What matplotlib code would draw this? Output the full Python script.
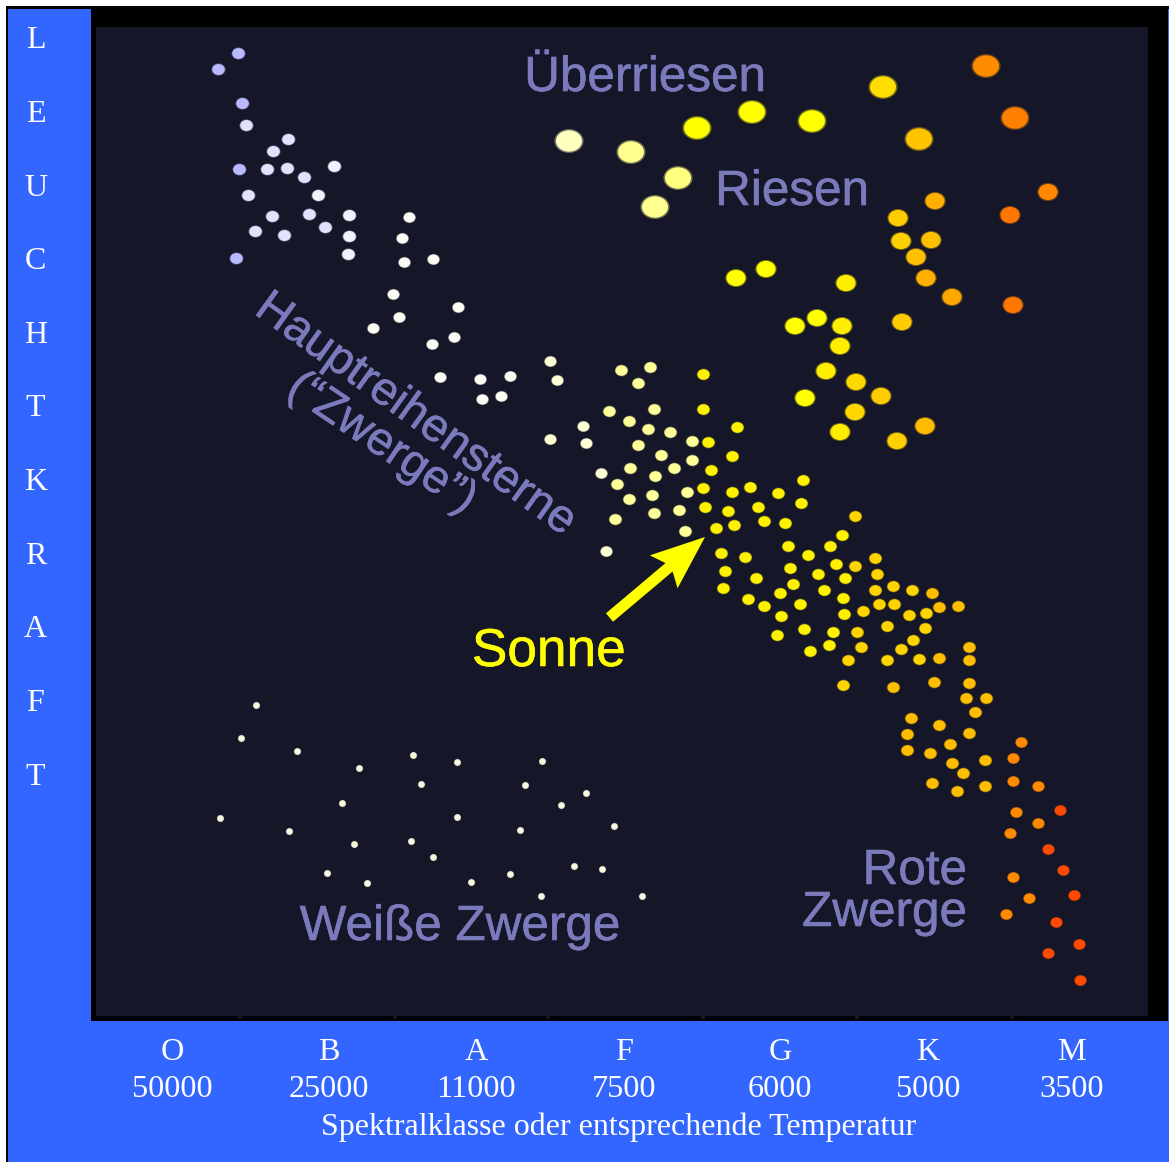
import numpy as np
import matplotlib
matplotlib.use("Agg")
import matplotlib.pyplot as plt
import matplotlib.patheffects as pe
from matplotlib.path import Path
from matplotlib.patches import Rectangle, Polygon
from matplotlib.transforms import Affine2D

W, H = 1171, 1162
BLUE = "#3366ff"
NAVY = "#151728"
LABEL = "#7a7abc"

spectral_classes = ["O", "B", "A", "F", "G", "K", "M"]
temperatures = ["50000", "25000", "11000", "7500", "6000", "5000", "3500"]
class_pos = [172, 329, 476, 624, 780, 928, 1072]
faint_ticks = [240, 395, 548, 703, 857, 1012]
y_letters = list("LEUCHTKRAFT")
y_letter_pos = [37, 111, 185, 258, 332, 405, 479, 553, 626, 700, 774]

# Each group: (x, y) positions
blue_white = [(218,69),(238,53),(242,103),(239,169),(236,258)]
lavender = [(246,125),(273,151),(288,139),(267,169),(287,168),(304,177),(248,195),(272,216),(255,231),(284,235),(309,214),(325,227)]
near_white = [(318,195),(334,166),(349,215),(349,236),(348,254)]
white_ms = [(409,217),(402,238),(404,262),(433,259),(393,294),(399,317),(373,328),(458,307),(432,344),(454,337),(440,377),(480,379),(482,399),(501,396),(510,376)]
cream = [(550,361),(557,380),(550,439),(583,426),(586,443),(601,473),(606,551)]
pale_yellow = [(621,370),(650,367),(638,383),(609,411),(629,421),(654,409),(648,429),(670,432),(638,445),(661,455),(692,441),(692,460),(674,468),(630,468),(617,484),(655,476),(629,499),(652,495),(654,513),(615,519),(679,510),(685,531),(687,492)]
yellow_ms = [(703,374),(703,409),(708,442),(737,427),(732,456),(711,470),(703,488),(732,492),(750,487),(778,493),(803,480),(801,503),(705,507),(728,511),(758,507),(764,521),(785,523),(716,528),(734,525),(842,535),(830,546),(788,546),(808,555),(721,553),(745,557),(836,564),(790,568),(725,571),(756,578),(818,574),(845,578),(793,584),(723,588),(780,593),(824,590),(843,598),(748,599),(764,606),(800,604),(781,616),(844,614),(804,629),(833,632),(777,635),(829,645),(810,651)]
gold_ms = [(855,516),(855,566),(863,611),(857,632),(861,647),(848,660),(843,685),(875,558),(877,574),(875,590),(893,586),(912,590),(879,604),(894,604),(909,615),(926,613),(887,626),(925,628),(913,640),(901,649),(887,660),(919,659)]
amber_ms = [(932,593),(939,607),(958,606),(939,658),(969,647),(969,660),(969,683),(934,682),(893,687),(966,698),(986,698),(975,712),(911,718),(939,725),(969,733),(907,734),(950,744),(907,750),(930,753),(952,763),(963,773),(985,760),(932,783),(957,791),(985,786)]
orange_dwarfs = [(1013,877),(1006,914),(1029,898),(1038,786),(1013,781),(1013,758),(1021,742),(1016,812),(1010,833),(1038,823)]
red_dwarfs = [(1060,810),(1048,849),(1063,870),(1074,895),(1056,922),(1048,953),(1079,944),(1080,980)]
white_dwarfs = [(256,705),(241,738),(297,751),(359,768),(413,755),(421,784),(457,762),(525,785),(542,761),(586,793),(561,805),(342,803),(220,818),(289,831),(354,844),(411,841),(433,857),(457,817),(520,830),(614,826),(327,873),(367,883),(471,882),(510,874),(541,896),(574,866),(602,869),(642,896)]

giant_x = [1048,1010,935,898,901,931,916,926,952,1013,902,846,766,736,795,817,842,840,826,856,881,805,855,840,897,925]
giant_y = [192,215,201,218,241,240,257,278,297,305,322,283,269,278,326,318,326,346,371,382,396,398,412,432,441,426]
giant_c = ["#ff8800","#ff7700","#ffb000","#ffcc00","#ffd000","#ffc000","#ffc000","#ffb000","#ffa800","#ff7700","#ffcc00","#ffee00","#ffff00","#ffff00","#ffff00","#ffff00","#ffee00","#ffee00","#ffee00","#ffd800","#ffcc00","#ffff00","#ffd800","#ffee00","#ffd000","#ffbb00"]
super_x = [569,631,697,752,812,883,919,986,1015,678,655]
super_y = [141,152,128,112,121,87,139,66,118,178,207]
super_c = ["#ffffc0","#ffff90","#ffff00","#ffff00","#ffff00","#ffdd00","#ffc400","#ff8c00","#ff8000","#ffff80","#ffff90"]

arrow_tail = (609.5, 617.5)
arrow_tip = (705, 537)

fig = plt.figure(figsize=(W/100, H/100), dpi=100, facecolor="white")
fig.add_artist(Rectangle((7/W, 0), 1162/W, 1-9/H, transform=fig.transFigure, fc=BLUE, ec="none", zorder=-2))
fig.add_artist(Rectangle((6/W, 0), 1.5/W, 1-6/H, transform=fig.transFigure, fc="black", ec="none", zorder=-1))
fig.add_artist(Rectangle((6/W, 1-9/H), 1163/W, 3/H, transform=fig.transFigure, fc="black", ec="none", zorder=-1))

ax = fig.add_axes([91/W, 1-1021/H, (1168-91)/W, (1021-6)/H], facecolor="black")
ax.set_xlim(91, 1168)
ax.set_ylim(1021, 6)
for s in ax.spines.values():
    s.set_visible(False)
ax.add_patch(Rectangle((96, 27), 1052, 989, fc=NAVY, ec="none", zorder=0))
ax.vlines(faint_ticks, 1016, 1019, color=NAVY, lw=3, zorder=0)

serif = "Liberation Serif"
ax.set_xticks(class_pos)
ax.set_xticklabels([f"{c}\n{t}" for c, t in zip(spectral_classes, temperatures)],
                   fontfamily=serif, fontsize=23.2, color="white", linespacing=1.36)
ax.set_yticks(y_letter_pos)
ax.set_yticklabels(y_letters, fontfamily=serif, fontsize=23, color="white", ha="center")
ax.tick_params(axis="both", length=0)
ax.tick_params(axis="x", pad=12)
ax.tick_params(axis="y", pad=40)
ax.set_xlabel("Spektralklasse oder entsprechende Temperatur", fontfamily=serif,
              fontsize=23, color="white")
ax.xaxis.set_label_coords((619-91)/1077, -0.0905)

def ellipse(aspect):
    return Path.unit_circle().transformed(Affine2D().scale(1.0, aspect))

def dots(x, y, color, wpx, aspect=0.87):
    m = ellipse(aspect)
    pt = wpx * 0.72
    ax.scatter(x, y, s=(pt*1.12)**2, c=color, marker=m, alpha=0.4, linewidths=0, zorder=3)
    ax.scatter(x, y, s=pt**2, c=color, marker=m, linewidths=0, zorder=4)

def group(pts, color, wpx, aspect=0.87):
    a = np.array(pts)
    dots(a[:, 0], a[:, 1], color, wpx, aspect)

group(blue_white, "#b9b9ff", 12.5)
group(lavender, "#e2e2ff", 12.5)
group(near_white, "#f2f2ff", 12.5)
group(white_ms, "#fdfdf5", 11.5)
group(cream, "#ffffd6", 11.5)
group(pale_yellow, "#ffff9a", 12)
group(yellow_ms, "#fff200", 12)
group(gold_ms, "#ffd400", 12)
group(amber_ms, "#ffbe00", 12)
group(orange_dwarfs, "#ff8a00", 11.5)
group(red_dwarfs, "#ff4a00", 11.5)
group(white_dwarfs, "#f8f8e0", 6.5, 1.0)
dots(giant_x, giant_y, giant_c, 19, 0.85)
dots(super_x, super_y, super_c, 26, 0.82)

# Sun arrow
t0, t1 = np.array(arrow_tail), np.array(arrow_tip)
d = (t1 - t0) / np.linalg.norm(t1 - t0)
n = np.array([-d[1], d[0]])
shaft, head, notch, barb = 5.5, 54, 47, 21.5
ax.add_patch(Polygon([t1, t1 - head*d + barb*n, t1 - notch*d + shaft*n, t0 + shaft*n,
                      t0 - shaft*n, t1 - notch*d - shaft*n, t1 - head*d - barb*n],
                     closed=True, fc="#ffff00", ec="none", zorder=5))

sans = "Liberation Sans"
def label(x, y, s, size=35.6, color=LABEL, rot=0, ha="center"):
    t = ax.text(x, y, s, fontfamily=sans, fontsize=size, color=color, rotation=rot,
                rotation_mode="anchor", ha=ha, va="baseline", zorder=6)
    t.set_path_effects([pe.withStroke(linewidth=0.4, foreground=color)])

label(645, 91, "Überriesen")
label(792, 205, "Riesen")
label(253, 313, "Hauptreihensterne", size=33.5, rot=-35.7, ha="left")
label(285, 393, "(“Zwerge”)", size=33.5, rot=-34, ha="left")
label(549, 666, "Sonne", size=38.3, color="#ffff00")
label(967, 884, "Rote", ha="right")
label(967, 926, "Zwerge", ha="right")
label(460, 940, "Weiße Zwerge")

fig.savefig("out.png", dpi=100, facecolor=fig.get_facecolor())
